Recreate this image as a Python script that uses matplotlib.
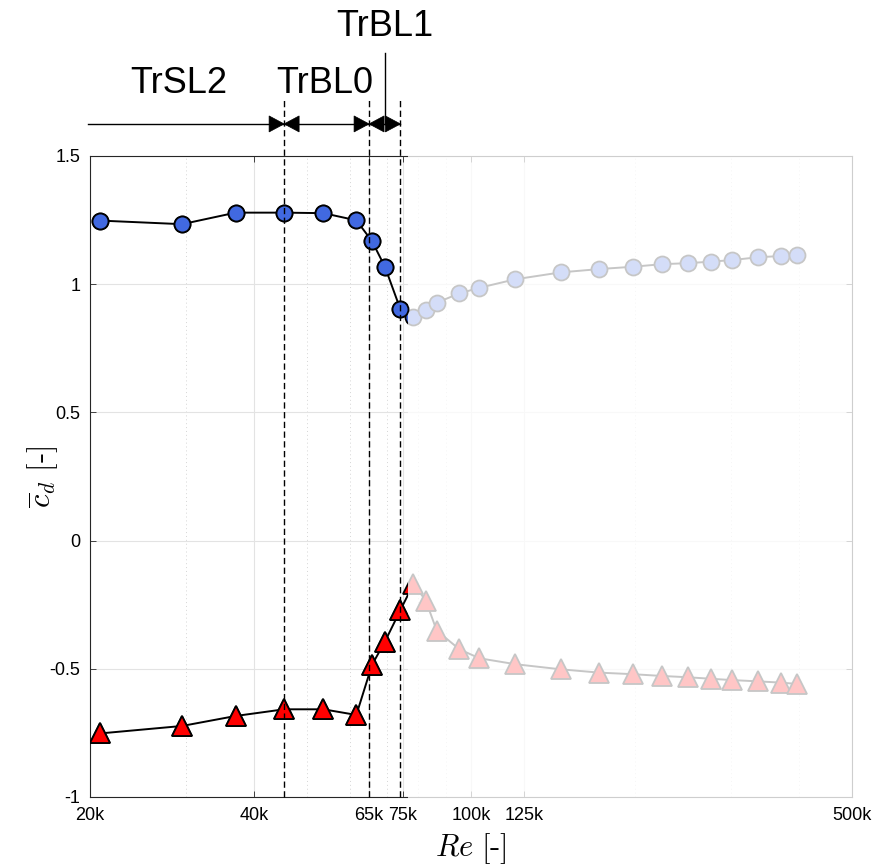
"""
Mean drag coefficient vs Reynolds number with regime annotations
"""
import matplotlib.pyplot as plt
import matplotlib as mpl
from matplotlib.patches import Rectangle, Polygon
from matplotlib.transforms import blended_transform_factory, IdentityTransform
import numpy as np

mpl.rcParams.update({
    'font.family': ['Liberation Sans', 'DejaVu Sans'],
    'mathtext.fontset': 'cm',
    'axes.linewidth': 0.8,
})

# Reynolds numbers (all runs)
re = [20.9e3, 29.5e3, 37.0e3, 45.4e3, 53.6e3, 61.6e3, 65.8e3, 69.5e3, 74.2e3,
      78.4e3, 82.6e3, 86.5e3, 95.2e3, 103.6e3, 120.5e3, 146e3, 172e3, 198e3,
      224e3, 250e3, 276e3, 301e3, 336e3, 371e3, 396e3]
# mean drag (upper branch, circles)
cd_top = [1.248, 1.234, 1.279, 1.279, 1.277, 1.249, 1.168, 1.068, 0.902,
          0.871, 0.899, 0.928, 0.964, 0.986, 1.019, 1.046, 1.059, 1.068,
          1.078, 1.082, 1.088, 1.094, 1.105, 1.110, 1.114]
# lower branch (triangles)
cd_bot = [-0.752, -0.723, -0.684, -0.658, -0.658, -0.680, -0.485, -0.394, -0.271,
          -0.169, -0.234, -0.351, -0.424, -0.459, -0.482, -0.502, -0.515, -0.521,
          -0.528, -0.533, -0.539, -0.544, -0.549, -0.554, -0.559]
n_active = 9          # runs shown in full colour
re_fade = 76.7e3      # everything above this is greyed out

# regime boundaries and labels
re_bounds = [45.4e3, 65.0e3, 74.2e3]
regimes = ['TrSL2', 'TrBL0', 'TrBL1']
regime_x = [29.1e3, 54.0e3, 69.6e3]

xticks = [20e3, 40e3, 65e3, 75e3, 100e3, 125e3, 500e3]
xticklabels = ['20k', '40k', '65k', '75k', '100k', '125k', '500k']
xminor = [30e3, 50e3, 60e3, 70e3, 80e3, 90e3, 200e3, 300e3, 400e3]
yticks = [-1, -0.5, 0, 0.5, 1, 1.5]
yticklabels = ['-1', '-0.5', '0', '0.5', '1', '1.5']

BLUE = '#4169e1'
RED = '#ff0000'


def head(fig, xt, x, y, direction, length=15, half=8):
    # filled arrow head with its tip at (x, y), pointing left (-1) or right (+1)
    X, Y = xt.transform((x, y))
    pts = [(X, Y), (X - direction * length, Y + half),
           (X - direction * length, Y - half)]
    fig.add_artist(Polygon(pts, closed=True, transform=IdentityTransform(),
                           facecolor='black', edgecolor='black', lw=0.5))


def main():
    fig = plt.figure(figsize=(8.75, 8.68), dpi=100)
    ax = fig.add_axes([0.1029, 0.0818, 0.8709, 0.7385])
    ax.set_xscale('log')
    ax.set_xlim(20e3, 500e3)
    ax.set_ylim(-1, 1.5)

    mk = dict(markeredgecolor='black', markeredgewidth=1.3, color='black',
              linewidth=1.4)
    ax.plot(re, cd_top, marker='o', markersize=11.5, markerfacecolor=BLUE,
            zorder=3, **mk)
    ax.plot(re, cd_bot, marker='^', markersize=14, markerfacecolor=RED,
            zorder=3, **mk)

    # fade the runs above the last regime
    tr = blended_transform_factory(ax.transData, ax.transAxes)
    ax.add_patch(Rectangle((re_fade, -0.006), 505e3 - re_fade, 1.012,
                           transform=tr, facecolor='white', alpha=0.78,
                           edgecolor='none', zorder=5, clip_on=False))

    # active runs on top
    ax.plot(re[:n_active], cd_top[:n_active], linestyle='none', marker='o',
            markersize=11.5, markerfacecolor=BLUE, markeredgecolor='black',
            markeredgewidth=1.3, zorder=6)
    ax.plot(re[:n_active], cd_bot[:n_active], linestyle='none', marker='^',
            markersize=14, markerfacecolor=RED, markeredgecolor='black',
            markeredgewidth=1.3, zorder=6)

    # regime boundaries
    xt = ax.get_xaxis_transform()
    for b in re_bounds:
        ax.plot([b, b], [0, 1.092], transform=xt, color='black', lw=1.0,
                dashes=(4.5, 2.5), zorder=7, clip_on=False)

    # regime arrows
    ya = 1.05
    ax.plot([19.8e3, re_bounds[2]], [ya, ya], transform=xt, color='black',
            lw=1.0, clip_on=False)
    head(fig, xt, re_bounds[0], ya, +1)
    head(fig, xt, re_bounds[0], ya, -1)
    head(fig, xt, re_bounds[1], ya, +1)
    head(fig, xt, re_bounds[1], ya, -1)
    head(fig, xt, re_bounds[2], ya, +1)
    ax.plot([regime_x[2], regime_x[2]], [ya, 1.161], transform=xt, color='black',
            lw=1.0, clip_on=False)

    ax.text(regime_x[0], 1.098, regimes[0], transform=xt, ha='center',
            va='baseline', fontsize=26)
    ax.text(regime_x[1], 1.098, regimes[1], transform=xt, ha='center',
            va='baseline', fontsize=26)
    ax.text(regime_x[2], 1.187, regimes[2], transform=xt, ha='center',
            va='baseline', fontsize=26)

    # axes styling
    ax.set_xticks(xticks)
    ax.set_xticklabels(xticklabels)
    ax.set_xticks(xminor, minor=True)
    ax.xaxis.set_minor_formatter(mpl.ticker.NullFormatter())
    ax.set_yticks(yticks)
    ax.set_yticklabels(yticklabels)
    ax.tick_params(which='major', direction='in', length=4, width=0.6,
                   top=True, right=True, labelsize=13, pad=7, color='#262626')
    ax.tick_params(which='minor', length=0)
    ax.set_axisbelow(True)
    ax.grid(True, which='major', color='#e3e3e3', linewidth=0.8)
    ax.grid(True, which='minor', axis='x', color='#d5d5d5', linewidth=0.7,
            linestyle=(0, (1, 3)))
    for s in ax.spines.values():
        s.set_color('#262626')

    ax.set_xlabel(r'$Re\ [\text{-}]$', fontsize=22, labelpad=5)
    ax.set_ylabel(r'$\overline{c}_d\ [\text{-}]$', fontsize=22)
    ax.yaxis.set_label_coords(-0.04, 0.5)

    fig.savefig('out.png', dpi=100)


if __name__ == '__main__':
    main()
